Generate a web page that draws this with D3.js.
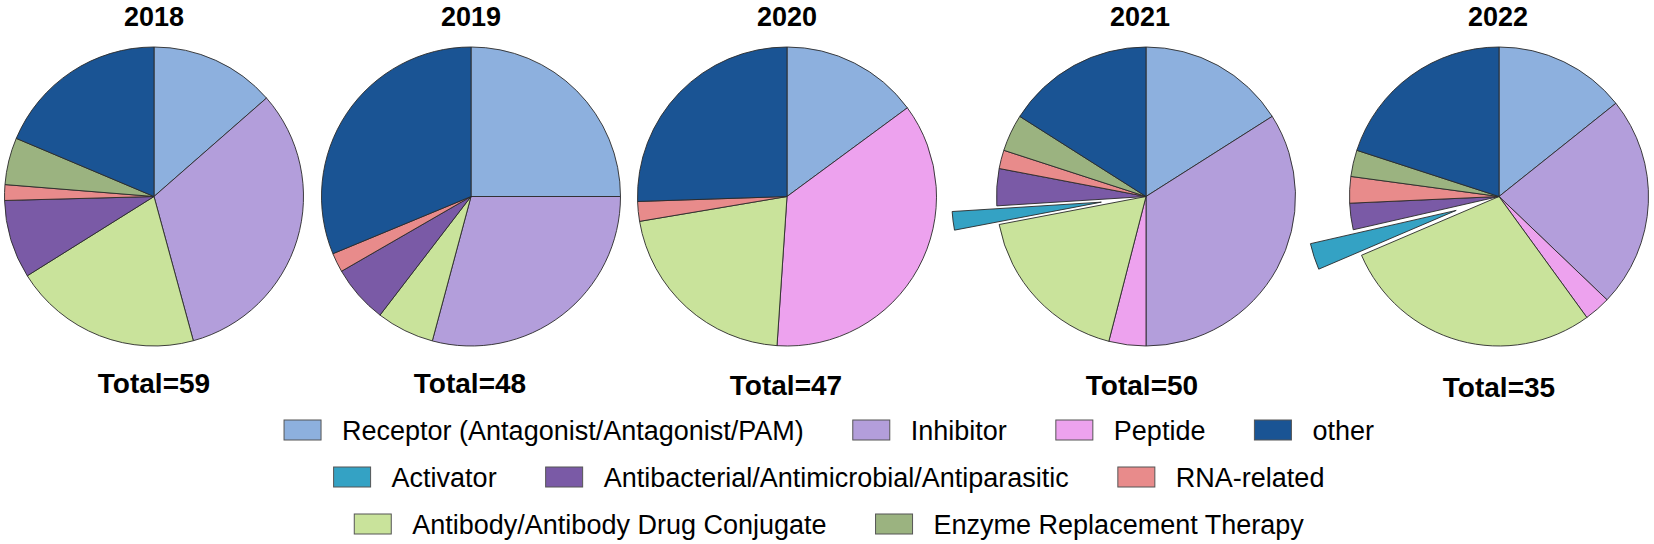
<!DOCTYPE html>
<html><head><meta charset="utf-8">
<script src="https://cdn.jsdelivr.net/npm/d3@7"></script>
<style>
body{margin:0;background:#fff}
svg{display:block}
text{font-family:"Liberation Sans",Arial,Helvetica,sans-serif;fill:#000}
</style>
</head><body>
<svg id="chart" width="1654" height="544"></svg>
<script>
// ---- data ----
const years = ["2018", "2019", "2020", "2021", "2022"];
const categories = [
  "Receptor (Antagonist/Antagonist/PAM)",
  "Inhibitor",
  "Peptide",
  "Antibody/Antibody Drug Conjugate",
  "Activator",
  "Antibacterial/Antimicrobial/Antiparasitic",
  "RNA-related",
  "Enzyme Replacement Therapy",
  "other"
];
const receptor      = [8, 12, 7, 8, 5];
const inhibitor     = [19, 14, 0, 17, 8];
const peptide       = [0, 0, 17, 2, 1];
const antibody      = [12, 3, 10, 9, 10];
const activator     = [0, 0, 0, 1, 1];
const antibacterial = [5, 3, 0, 2, 1];
const rnaRelated    = [1, 1, 1, 1, 1];
const enzyme        = [3, 0, 0, 2, 1];
const other         = [11, 15, 12, 8, 7];
const series = [receptor, inhibitor, peptide, antibody, activator, antibacterial, rnaRelated, enzyme, other];
const explodedCategory = "Activator";

// ---- style / layout ----
const colors = ["#8DB0DE", "#B39EDB", "#EDA2EE", "#C9E39B", "#34A2C4", "#7A5AA6", "#E88B8B", "#9BB380", "#1A5494"];
const legendRows = [
  ["Receptor (Antagonist/Antagonist/PAM)", "Inhibitor", "Peptide", "other"],
  ["Activator", "Antibacterial/Antimicrobial/Antiparasitic", "RNA-related"],
  ["Antibody/Antibody Drug Conjugate", "Enzyme Replacement Therapy"]
];
const pieCx = [154, 471, 787, 1146, 1499];
const titleCx = [154, 471, 787, 1140, 1498];
const totalCx = [154, 470, 786, 1142, 1499];
const totalBaseline = [393, 393, 395, 395, 397];
const pieCy = 196.5, radius = 149.5, explodeOffset = 45;

const svg = d3.select("#chart");
const color = d3.scaleOrdinal().domain(categories).range(colors);
const pie = d3.pie().sort(null).value(d => d.value).startAngle(0).endAngle(2 * Math.PI);
const arc = d3.arc().innerRadius(0).outerRadius(radius);

years.forEach((yr, i) => {
  const rows = categories.map((c, k) => ({cat: c, value: series[k][i]}));
  const total = d3.sum(rows, d => d.value);
  const g = svg.append("g").attr("transform", `translate(${pieCx[i]},${pieCy})`);
  const arcs = pie(rows).filter(d => d.value > 0);
  g.selectAll("path").data(arcs).join("path")
    .attr("d", arc)
    .attr("fill", d => color(d.data.cat))
    .attr("stroke", "#2a2a2a")
    .attr("stroke-width", 0.9)
    .attr("stroke-linejoin", "round")
    .attr("transform", d => {
      if (d.data.cat !== explodedCategory) return null;
      const m = (d.startAngle + d.endAngle) / 2;
      return `translate(${Math.sin(m) * explodeOffset},${-Math.cos(m) * explodeOffset})`;
    });
  svg.append("text").attr("x", titleCx[i]).attr("y", 26)
    .attr("text-anchor", "middle").attr("font-weight", "bold").attr("font-size", 27)
    .text(yr);
  svg.append("text").attr("x", totalCx[i]).attr("y", totalBaseline[i])
    .attr("text-anchor", "middle").attr("font-weight", "bold").attr("font-size", 28)
    .text("Total=" + total);
});

// ---- legend ----
const rowCy = [430, 477, 524];
const boxW = 37, boxH = 20, boxGap = 21, itemGap = 49, legendCenter = 829, fs = 27;
legendRows.forEach((row, r) => {
  const lg = svg.append("g");
  let x = 0;
  row.forEach(cat => {
    const it = lg.append("g").attr("transform", `translate(${x},0)`);
    it.append("rect").attr("x", 0).attr("y", rowCy[r] - boxH / 2)
      .attr("width", boxW).attr("height", boxH)
      .attr("fill", color(cat)).attr("stroke", "#555").attr("stroke-width", 1);
    const t = it.append("text").attr("x", boxW + boxGap).attr("y", rowCy[r] + 9.5)
      .attr("font-size", fs).text(cat);
    x += boxW + boxGap + t.node().getComputedTextLength() + itemGap;
  });
  const w = x - itemGap;
  lg.attr("transform", `translate(${legendCenter - w / 2},0)`);
});
</script>
</body></html>
